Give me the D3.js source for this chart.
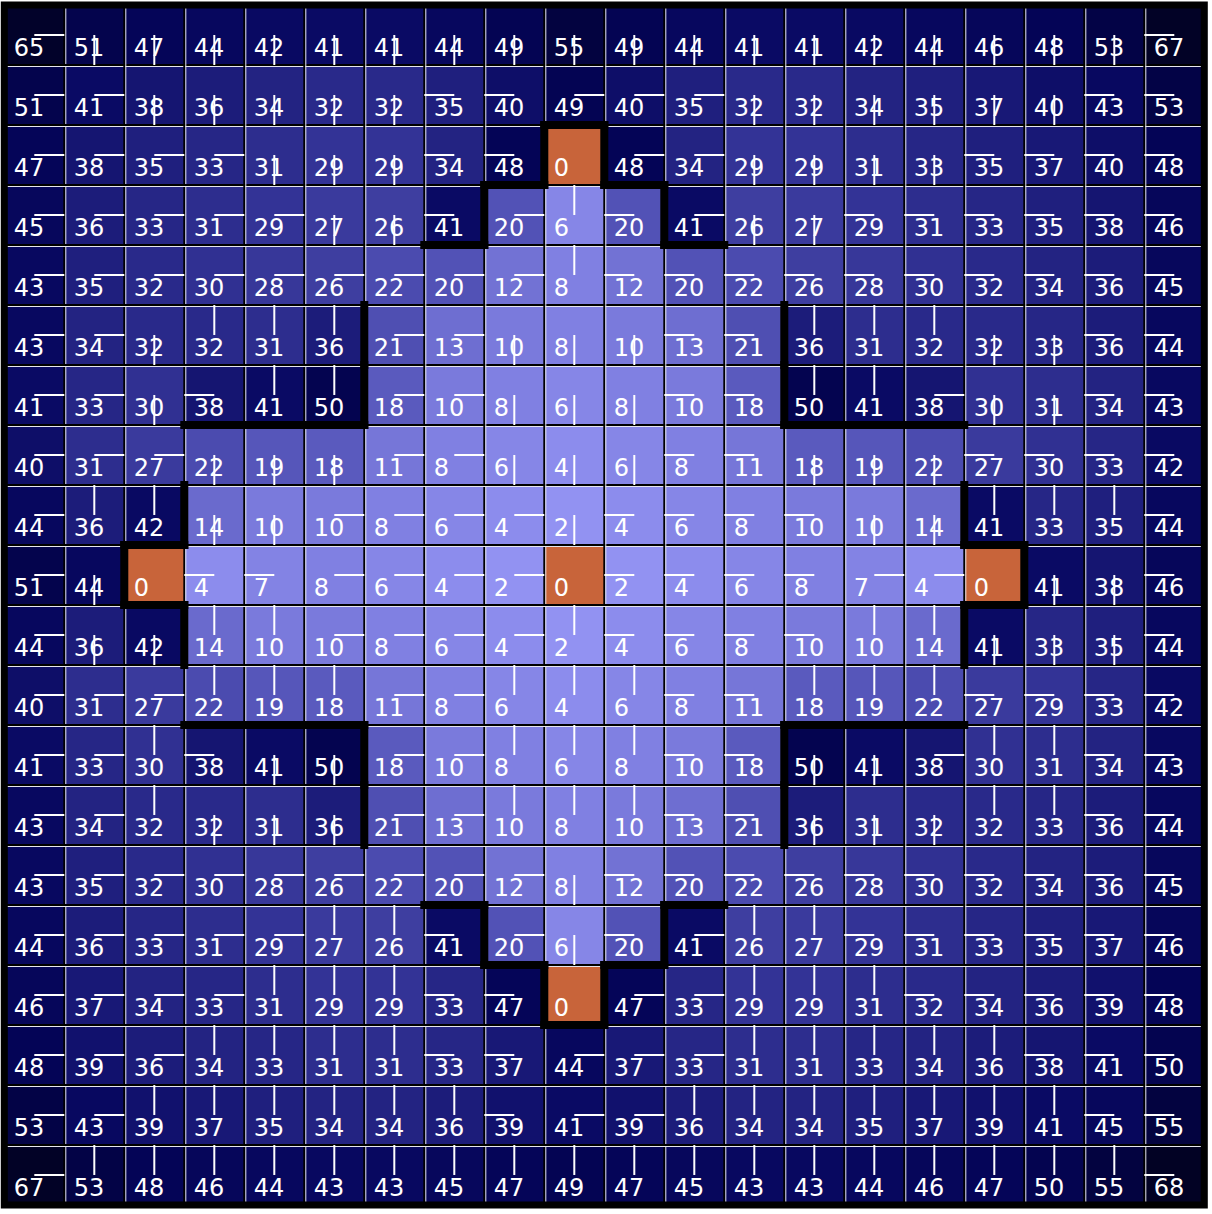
<!DOCTYPE html>
<html><head><meta charset="utf-8">
<script src="https://cdn.jsdelivr.net/npm/d3@7"></script>
<style>html,body{margin:0;padding:0;background:#fff;} svg{display:block}</style>
</head><body>
<script>
// Values per grid cell (row by row)
const values = [
[65,51,47,44,42,41,41,44,49,55,49,44,41,41,42,44,46,48,53,67],
[51,41,38,36,34,32,32,35,40,49,40,35,32,32,34,35,37,40,43,53],
[47,38,35,33,31,29,29,34,48,0,48,34,29,29,31,33,35,37,40,48],
[45,36,33,31,29,27,26,41,20,6,20,41,26,27,29,31,33,35,38,46],
[43,35,32,30,28,26,22,20,12,8,12,20,22,26,28,30,32,34,36,45],
[43,34,32,32,31,36,21,13,10,8,10,13,21,36,31,32,32,33,36,44],
[41,33,30,38,41,50,18,10,8,6,8,10,18,50,41,38,30,31,34,43],
[40,31,27,22,19,18,11,8,6,4,6,8,11,18,19,22,27,30,33,42],
[44,36,42,14,10,10,8,6,4,2,4,6,8,10,10,14,41,33,35,44],
[51,44,0,4,7,8,6,4,2,0,2,4,6,8,7,4,0,41,38,46],
[44,36,42,14,10,10,8,6,4,2,4,6,8,10,10,14,41,33,35,44],
[40,31,27,22,19,18,11,8,6,4,6,8,11,18,19,22,27,29,33,42],
[41,33,30,38,41,50,18,10,8,6,8,10,18,50,41,38,30,31,34,43],
[43,34,32,32,31,36,21,13,10,8,10,13,21,36,31,32,32,33,36,44],
[43,35,32,30,28,26,22,20,12,8,12,20,22,26,28,30,32,34,36,45],
[44,36,33,31,29,27,26,41,20,6,20,41,26,27,29,31,33,35,37,46],
[46,37,34,33,31,29,29,33,47,0,47,33,29,29,31,32,34,36,39,48],
[48,39,36,34,33,31,31,33,37,44,37,33,31,31,33,34,36,38,41,50],
[53,43,39,37,35,34,34,36,39,41,39,36,34,34,35,37,39,41,45,55],
[67,53,48,46,44,43,43,45,47,49,47,45,43,43,44,46,47,50,55,68]
];
// Policy direction per cell: R, L, U, D, G = goal (no line)
const policy = [
"RDDDDDDDDDDDDDDDDDDL",
"RRDDDDDLLRRRDDDDDDLL",
"RRRRDDDLLGRRDDDDLLLL",
"RRRRRDDLRULRDDLLLLLL",
"RRRRRRRRRULLLLLLLLLL",
"RRDUUURRDDDLLUUUDDLL",
"RRDLUURRDDDLLUURDDLL",
"RRRDDDRRDDDLLDDDLLLL",
"RUUDDRRRRDLLLLDDUUUL",
"RDGLLRRRRGLLLLRRGDDL",
"RDDUURRRRULLLLUUDDDL",
"RRRUUURRUUULLUUULLLL",
"RRULDDRRUUULLDDRUULL",
"RRUDDDRRUUULLDDDUULL",
"RRRRRRRRRDLLLLLLLLLL",
"RRRRRUULRDLRUULLLLLL",
"RRRRUUULLGRRUUULLLLL",
"RRRUUUULLRRRUUUUULLL",
"RRUUUUUULRRUUUUUUULL",
"RUUUUUUUUUUUUUUUUUUL"
];
// Goal cells [row, col]
const goals = [[2,9],[9,2],[9,9],[9,16],[16,9]];
// Walls: [row, col, side]
const walls = [
[2,9,"T"],[2,9,"L"],[2,9,"R"],[2,8,"B"],[2,10,"B"],[3,8,"L"],[3,10,"R"],[3,7,"B"],[3,11,"B"],
[5,5,"R"],[6,5,"R"],[6,3,"B"],[6,4,"B"],[6,5,"B"],[8,2,"R"],
[9,2,"T"],[9,2,"L"],[9,2,"B"],[10,2,"R"],
[12,3,"T"],[12,4,"T"],[12,5,"T"],[12,5,"R"],[13,5,"R"],
[5,13,"L"],[6,13,"L"],[6,13,"B"],[6,14,"B"],[6,15,"B"],[8,16,"L"],
[9,16,"T"],[9,16,"R"],[9,16,"B"],[10,16,"L"],
[12,13,"T"],[12,14,"T"],[12,15,"T"],[12,13,"L"],[13,13,"L"],
[15,7,"T"],[15,8,"L"],[16,8,"T"],[16,9,"L"],[16,9,"B"],[16,9,"R"],[16,10,"T"],[15,10,"R"],[15,11,"T"]
];

const W = 1212, H = 1214, N = 20;
const svg = d3.select("body").append("svg").attr("width", W).attr("height", H);
const x = d3.scaleBand().domain(d3.range(N)).range([4.3, 1204.3]);
const y = d3.scaleBand().domain(d3.range(N)).range([5, 1205]);
const bw = x.bandwidth(), bh = y.bandwidth();
const color = d3.scaleLinear()
  .domain([0, 10, 20, 30, 36, 41, 48, 55, 68])
  .range(["#9898f8", "#7a7adc", "#5252b6", "#303092", "#1c1c7a", "#0a0a64", "#040456", "#030340", "#020224"]);
const goalSet = new Set(goals.map(g => g[0] + "," + g[1]));

const cells = [];
values.forEach((row, r) => row.forEach((v, c) => cells.push({r, c, v, d: policy[r][c], goal: goalSet.has(r + "," + c)})));

svg.append("g").selectAll("rect").data(cells).join("rect")
  .attr("x", d => x(d.c)).attr("y", d => y(d.r))
  .attr("width", bw).attr("height", bh)
  .attr("fill", d => d.goal ? "#c8643a" : color(d.v));

// grid lines
const grid = svg.append("g");
d3.range(1, N).forEach(k => {
  const gx = x(k), gy = y(k);
  grid.append("line").attr("x1", gx).attr("x2", gx).attr("y1", y(0)).attr("y2", y(N-1) + bh).attr("stroke", "#000").attr("stroke-width", 2);
  grid.append("line").attr("x1", gx + 1.5).attr("x2", gx + 1.5).attr("y1", y(0)).attr("y2", y(N-1) + bh).attr("stroke", "#e6e6ee").attr("stroke-width", 1);
  grid.append("line").attr("y1", gy).attr("y2", gy).attr("x1", x(0)).attr("x2", x(N-1) + bw).attr("stroke", "#000").attr("stroke-width", 2);
  grid.append("line").attr("y1", gy + 1.5).attr("y2", gy + 1.5).attr("x1", x(0)).attr("x2", x(N-1) + bw).attr("stroke", "#e6e6ee").attr("stroke-width", 1);
});

// value labels
svg.append("g").selectAll("text").data(cells).join("text")
  .attr("x", d => x(d.c) + 9.5).attr("y", d => y(d.r) + 51)
  .attr("fill", "#fff")
  .attr("font-family", "DejaVu Sans")
  .attr("font-size", 24)
  .text(d => d.v);

// policy lines
function seg(d) {
  const x0 = x(d.c), y0 = y(d.r), cx = x0 + bw / 2, cy = y0 + bh / 2;
  switch (d.d) {
    case "R": return [cx, cy, x0 + bw, cy];
    case "L": return [x0, cy, cx, cy];
    case "U": return [cx, y0, cx, cy];
    case "D": return [cx, cy, cx, y0 + bh];
  }
  return null;
}
svg.append("g").selectAll("line").data(cells.filter(d => !d.goal)).join("line")
  .each(function(d) {
    const s = seg(d);
    d3.select(this).attr("x1", s[0]).attr("y1", s[1]).attr("x2", s[2]).attr("y2", s[3]);
  })
  .attr("stroke", "#fff").attr("stroke-width", 2);

// walls
function wallSeg(w) {
  const [r, c, s] = w, x0 = x(c), y0 = y(r);
  if (s === "T") return [x0, y0, x0 + bw, y0];
  if (s === "B") return [x0, y0 + bh, x0 + bw, y0 + bh];
  if (s === "L") return [x0, y0, x0, y0 + bh];
  return [x0 + bw, y0, x0 + bw, y0 + bh];
}
svg.append("g").selectAll("line").data(walls).join("line")
  .each(function(w) {
    const s = wallSeg(w);
    d3.select(this).attr("x1", s[0]).attr("y1", s[1]).attr("x2", s[2]).attr("y2", s[3]);
  })
  .attr("stroke", "#000").attr("stroke-width", 8).attr("stroke-linecap", "square");

// outer frame
svg.append("rect").attr("x", x(0)).attr("y", y(0)).attr("width", bw * N).attr("height", bh * N)
  .attr("fill", "none").attr("stroke", "#000").attr("stroke-width", 7);
</script>
</body></html>
